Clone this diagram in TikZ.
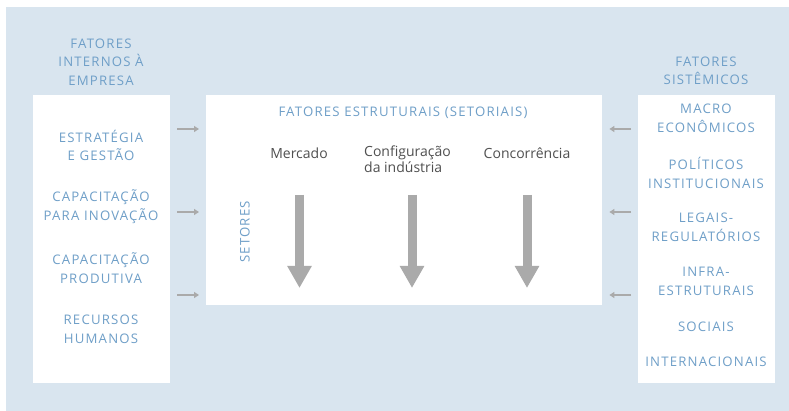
\documentclass[tikz,border=0pt]{standalone}
\usepackage{fontspec}
\setmainfont{Open Sans}
\newfontfamily\largafont[LetterSpace=9]{Open Sans}
\usetikzlibrary{arrows.meta}
\definecolor{fundo}{HTML}{D9E5EF}
\definecolor{azul}{HTML}{6F9FC8}
\definecolor{cinza}{HTML}{AAAAAA}
\definecolor{texto}{HTML}{505050}
\tikzset{
  caixa/.style={fill=white,draw=none},
  rotulo/.style={text=azul,align=center,font=\largafont\fontsize{13.2}{18.5}\selectfont,inner sep=0pt},
  fator/.style={text=texto,font=\fontsize{14}{15.5}\selectfont,inner sep=0pt},
  seta/.style={draw=cinza,line width=2pt,-{Triangle[length=5pt,width=6pt]}},
  setagrossa/.style={draw=cinza,line width=9pt,-{Triangle[length=22pt,width=23pt]}}
}
\begin{document}
\begin{tikzpicture}[x=1pt,y=-1pt]
\useasboundingbox (0,0) rectangle (789,411);
\fill[fundo] (6,7) rectangle (789,411);
% caixas
\node[caixa,minimum width=137pt,minimum height=288pt,anchor=north west] (interna) at (33,95) {};
\node[caixa,minimum width=396pt,minimum height=210pt,anchor=north west] (estrutural) at (206,95) {};
\node[caixa,minimum width=137pt,minimum height=288pt,anchor=north west] (sistemica) at (638,95) {};
% titulos
\node[rotulo] (tinterna) at (101,62) {FATORES\\INTERNOS À\\EMPRESA};
\node[rotulo] (tsistemica) at (706,71) {FATORES\\SISTÊMICOS};
\node[rotulo] (testrutural) at (403,113) {FATORES ESTRUTURAIS (SETORIAIS)};
\node[rotulo,rotate=90] (setores) at (245,232) {SETORES};
% fatores internos
\node[rotulo] (estrategia) at (101,145.5) {ESTRATÉGIA\\E GESTÃO};
\node[rotulo] (inovacao) at (101,206.5) {CAPACITAÇÃO\\PARA INOVAÇÃO};
\node[rotulo] (produtiva) at (101,268) {CAPACITAÇÃO\\PRODUTIVA};
\node[rotulo] (recursos) at (101,329.5) {RECURSOS\\HUMANOS};
% fatores sistemicos
\node[rotulo] (macro) at (706,118.5) {MACRO\\ECONÔMICOS};
\node[rotulo] (politicos) at (706,173) {POLÍTICOS\\INSTITUCIONAIS};
\node[rotulo] (legais) at (706,227.5) {LEGAIS-\\REGULATÓRIOS};
\node[rotulo] (infra) at (706,281.5) {INFRA-\\ESTRUTURAIS};
\node[rotulo] (sociais) at (706,327) {SOCIAIS};
\node[rotulo] (internacionais) at (706,362) {INTERNACIONAIS};
% fatores estruturais
\node[fator] (mercado) at (299,153) {Mercado};
\node[fator,align=left,anchor=north west] (configuracao) at (364,146) {Configuração\\da indústria};
\node[fator] (concorrencia) at (527,153) {Concorrência};
\coordinate (m1) at (299.5,195); \coordinate (m2) at (299.5,288);
\coordinate (c1) at (412,195); \coordinate (c2) at (412,288);
\coordinate (k1) at (527,195); \coordinate (k2) at (527,288);
\path[setagrossa] (m1) -- (m2);
\path[setagrossa] (c1) -- (c2);
\path[setagrossa] (k1) -- (k2);
% setas pequenas
\foreach \y [count=\i] in {129,212,295} {
  \coordinate (e\i) at (interna.east |- 0,\y);
  \coordinate (d\i) at (estrutural.west |- 0,\y);
  \coordinate (s\i) at (sistemica.west |- 0,\y);
  \coordinate (f\i) at (estrutural.east |- 0,\y);
  \path[seta] ([xshift=7pt]e\i) -- ([xshift=-7pt]d\i);
  \path[seta] ([xshift=-7pt]s\i) -- ([xshift=7pt]f\i);
}
\end{tikzpicture}
\end{document}
